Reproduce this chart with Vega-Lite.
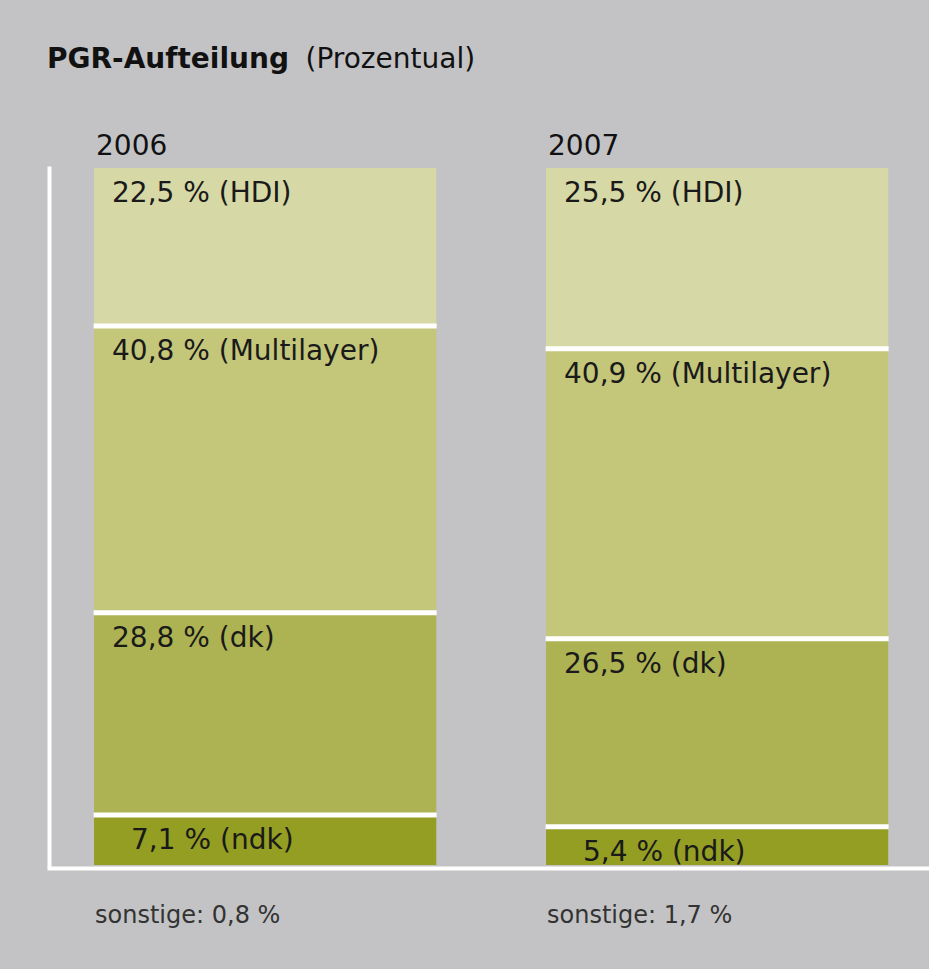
{
  "$schema": "https://vega.github.io/schema/vega-lite/v6.json",
  "width": 880,
  "height": 697,
  "autosize": {"type": "none"},
  "padding": {"left": 49, "top": 168, "right": 0, "bottom": 104},
  "background": "#c3c3c5",
  "title": {
    "text": "PGR-Aufteilung",
    "anchor": "start",
    "frame": "group",
    "font": "DejaVu Sans",
    "fontSize": 28,
    "fontWeight": "bold",
    "color": "#111111",
    "baseline": "alphabetic",
    "offset": -51,
    "dx": -2
  },
  "config": {
    "view": {"stroke": null},
    "text": {"font": "DejaVu Sans"}
  },
  "data": {
    "values": [
      {"year": "2006", "category": "ndk", "order": 1, "value": 7.1, "label": "7,1 % (ndk)"},
      {"year": "2006", "category": "dk", "order": 2, "value": 28.8, "label": "28,8 % (dk)"},
      {"year": "2006", "category": "Multilayer", "order": 3, "value": 40.8, "label": "40,8 % (Multilayer)"},
      {"year": "2006", "category": "HDI", "order": 4, "value": 22.5, "label": "22,5 % (HDI)"},
      {"year": "2007", "category": "ndk", "order": 1, "value": 5.4, "label": "5,4 % (ndk)"},
      {"year": "2007", "category": "dk", "order": 2, "value": 26.5, "label": "26,5 % (dk)"},
      {"year": "2007", "category": "Multilayer", "order": 3, "value": 40.9, "label": "40,9 % (Multilayer)"},
      {"year": "2007", "category": "HDI", "order": 4, "value": 25.5, "label": "25,5 % (HDI)"}
    ]
  },
  "transform": [
    {"stack": "value", "groupby": ["year"], "sort": [{"field": "order", "order": "ascending"}], "offset": "normalize", "as": ["v0", "v1"]}
  ],
  "encoding": {
    "x": {
      "field": "year",
      "type": "nominal",
      "scale": {"type": "band", "paddingInner": 0.2428, "paddingOuter": 0.0949, "align": 0.525},
      "axis": {
        "orient": "bottom",
        "title": null,
        "labels": false,
        "ticks": false,
        "domain": true,
        "domainColor": "#ffffff",
        "domainWidth": 4,
        "domainCap": "square",
        "offset": 3
      }
    }
  },
  "layer": [
    {
      "mark": {"type": "bar", "stroke": null},
      "encoding": {
        "y": {
          "field": "v0",
          "type": "quantitative",
          "scale": {"domain": [0, 1], "nice": false},
          "axis": {
            "title": "(Prozentual)",
            "labels": false,
            "ticks": false,
            "grid": false,
            "domain": true,
            "domainColor": "#ffffff",
            "domainWidth": 4,
            "domainCap": "square",
            "titleAngle": 0,
            "titleAlign": "left",
            "titleBaseline": "alphabetic",
            "titleX": 256,
            "titleY": -101,
            "titleFont": "DejaVu Sans",
            "titleFontSize": 28,
            "titleFontWeight": "normal",
            "titleColor": "#111111"
          }
        },
        "y2": {"field": "v1"},
        "color": {
          "field": "category",
          "type": "nominal",
          "scale": {
            "domain": ["HDI", "Multilayer", "dk", "ndk"],
            "range": ["#d6d8a5", "#c4c67a", "#adb352", "#939e23"]
          },
          "legend": null
        }
      }
    },
    {
      "transform": [{"filter": "datum.category !== 'HDI'"}],
      "mark": {"type": "tick", "color": "#ffffff", "thickness": 5, "size": 343, "opacity": 1},
      "encoding": {
        "y": {"field": "v1", "type": "quantitative"}
      }
    },
    {
      "transform": [{"filter": "datum.category !== 'ndk'"}],
      "mark": {"type": "text", "align": "left", "baseline": "alphabetic", "dx": 18, "dy": 34, "fontSize": 28, "color": "#1a1a1a"},
      "encoding": {
        "x": {"field": "year", "type": "nominal", "bandPosition": 0},
        "y": {"field": "v1", "type": "quantitative"},
        "text": {"field": "label"}
      }
    },
    {
      "transform": [{"filter": "datum.category === 'ndk'"}],
      "mark": {"type": "text", "align": "left", "baseline": "alphabetic", "dx": 37, "dy": 34, "fontSize": 28, "color": "#1a1a1a"},
      "encoding": {
        "x": {"field": "year", "type": "nominal", "bandPosition": 0},
        "y": {"field": "v1", "type": "quantitative"},
        "text": {"field": "label"}
      }
    },
    {
      "transform": [{"filter": "datum.category === 'HDI'"}],
      "mark": {"type": "text", "align": "left", "baseline": "alphabetic", "dx": 2, "dy": -13, "fontSize": 28, "color": "#111111"},
      "encoding": {
        "x": {"field": "year", "type": "nominal", "bandPosition": 0},
        "y": {"field": "v1", "type": "quantitative"},
        "text": {"field": "year"}
      }
    },
    {
      "data": {
        "values": [
          {"year": "2006", "other": 0.8, "note": "sonstige: 0,8 %"},
          {"year": "2007", "other": 1.7, "note": "sonstige: 1,7 %"}
        ]
      },
      "mark": {"type": "text", "align": "left", "baseline": "alphabetic", "dx": 1, "dy": 58, "fontSize": 24, "color": "#333333"},
      "encoding": {
        "x": {"field": "year", "type": "nominal", "bandPosition": 0},
        "y": {"datum": 0, "type": "quantitative"},
        "text": {"field": "note"}
      }
    }
  ]
}
